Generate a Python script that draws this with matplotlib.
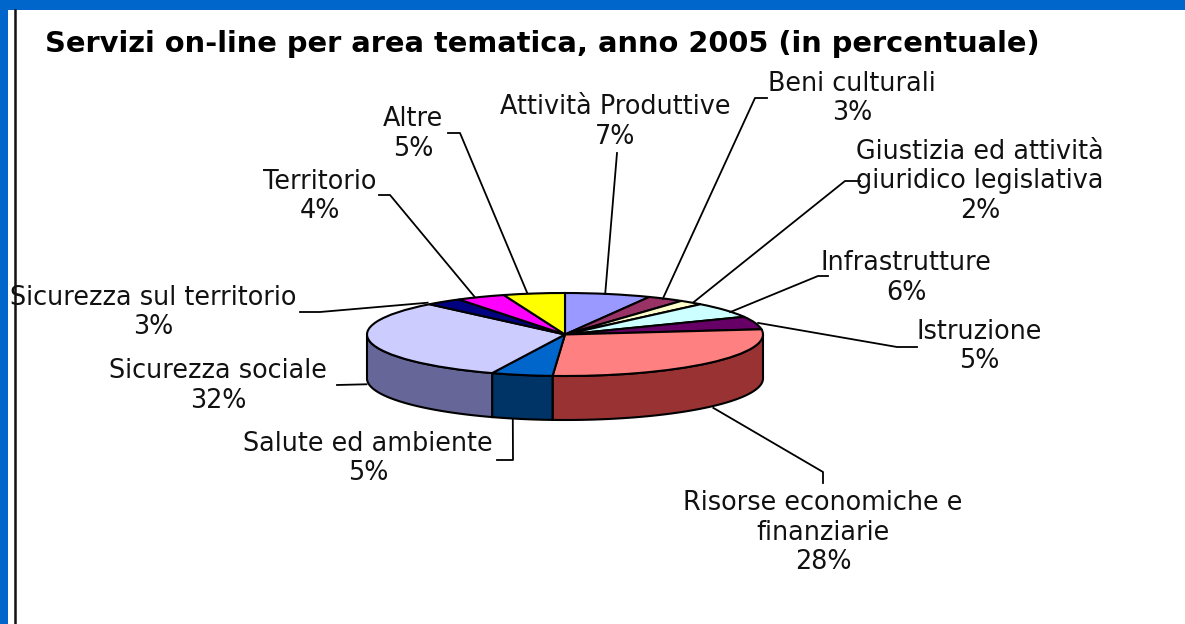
import numpy as np

import matplotlib

matplotlib.use("Agg")
import matplotlib.pyplot as plt
from matplotlib.patches import Rectangle

WIDTH, HEIGHT = 1185, 624

TITLE = "Servizi on-line per area tematica, anno 2005 (in percentuale)"

# clockwise from 12 o'clock
labels = [
    "Attività Produttive",
    "Beni culturali",
    "Giustizia ed attività\ngiuridico legislativa",
    "Infrastrutture",
    "Istruzione",
    "Risorse economiche e\nfinanziarie",
    "Salute ed ambiente",
    "Sicurezza sociale",
    "Sicurezza sul territorio",
    "Territorio",
    "Altre",
]
values = [7, 3, 2, 6, 5, 28, 5, 32, 3, 4, 5]

top_colors = [
    "#9999FF", "#993366", "#FFFFCC", "#CCFFFF", "#660066", "#FF8080",
    "#0066CC", "#CCCCFF", "#000080", "#FF00FF", "#FFFF00",
]
side_colors = [
    "#4D4D80", "#4D1A33", "#808066", "#668080", "#330033", "#993333",
    "#003366", "#666699", "#000040", "#800080", "#808000",
]

# pie position in pixels
CX, CY, RX, RY, DEPTH = 565, 334.5, 198, 41.5, 44

# label centres (x, y of first line) and leader elbows in pixels, same order
label_pos = [
    (615, 107), (852, 84), (980, 152), (906, 263), (979, 332), (823, 503),
    (368, 444), (218, 371), (153, 298), (320, 182), (413, 119),
]
leader_tails = [
    [(617, 153)],
    [(755, 98), (767, 98)],
    [(845, 181), (860, 181)],
    [(818, 276), (828, 276)],
    [(897, 347), (917, 347)],
    [(823, 472), (823, 483)],
    [(513, 460), (497, 460)],
    [(337, 385)],
    [(320, 312), (300, 312)],
    [(390, 195), (379, 195)],
    [(460, 133), (448, 133)],
]
# where a leader meets the pie, relative to the middle of its slice
leader_nudge = [
    (-3, 0), (-3, 0), (2, 0), (5, 2), (3, 0), (4, 1),
    (-9, 0), (-4, -2), (-16, 1), (-6, 0), (-7, -1),
]

fig = plt.figure(figsize=(WIDTH / 100, HEIGHT / 100), dpi=100, facecolor="white")

# pixel axes for frame, leaders and text
ax = fig.add_axes([0, 0, 1, 1], zorder=2)
ax.set_xlim(0, WIDTH)
ax.set_ylim(HEIGHT, 0)
ax.axis("off")
ax.patch.set_alpha(0)

ax.add_patch(Rectangle((0, 0), WIDTH, 10, color="#0066CC", lw=0))
ax.add_patch(Rectangle((0, 0), 8, HEIGHT, color="#0066CC", lw=0))
ax.plot([14.5, 14.5], [10, HEIGHT], color="#111111", lw=1.8)

ax.text(45, 44, TITLE, family="DejaVu Sans", weight="bold", fontsize=20.8,
        va="center", ha="left", color="black")

# pie axes: one data unit is the radius, squashed to an ellipse
pie_ax = fig.add_axes([0, 0, 1, 1], zorder=1)
pie_ax.pie(values, colors=top_colors, startangle=90, counterclock=False,
           wedgeprops={"edgecolor": "black", "linewidth": 1.5})
pie_ax.set_aspect("auto")
pie_ax.set_xlim(-CX / RX, (WIDTH - CX) / RX)
pie_ax.set_ylim((CY - HEIGHT) / RY, CY / RY)

edges = np.cumsum([0] + values) / sum(values) * 360
for start, stop, color in zip(edges[:-1], edges[1:], side_colors):
    lo, hi = max(start, 90), min(stop, 270)
    if lo >= hi:
        continue
    t = np.radians(np.linspace(lo, hi, 60))
    xs = np.sin(t)
    ys = np.cos(t)
    pie_ax.fill(
        np.r_[xs, xs[::-1]],
        np.r_[ys, ys[::-1] - DEPTH / RY],
        facecolor=color,
        edgecolor="black",
        linewidth=1.5,
        zorder=0.5,
    )

for i, label in enumerate(labels):
    mid = np.radians((edges[i] + edges[i + 1]) / 2)
    x0 = CX + RX * np.sin(mid) + leader_nudge[i][0]
    y0 = CY - RY * np.cos(mid) + leader_nudge[i][1]
    if np.cos(mid) < 0:
        y0 += DEPTH
    pts = [(x0, y0)] + leader_tails[i]
    ax.plot([p[0] for p in pts], [p[1] for p in pts], color="black", lw=1.3)

    x, y = label_pos[i]
    lines = label.split("\n") + [f"{values[i]}%"]
    for j, line in enumerate(lines):
        ax.text(x, y + j * 29.5, line, family="DejaVu Sans", fontsize=18.4,
                ha="center", va="center", color="#111111")

fig.savefig("out.png", dpi=100)
